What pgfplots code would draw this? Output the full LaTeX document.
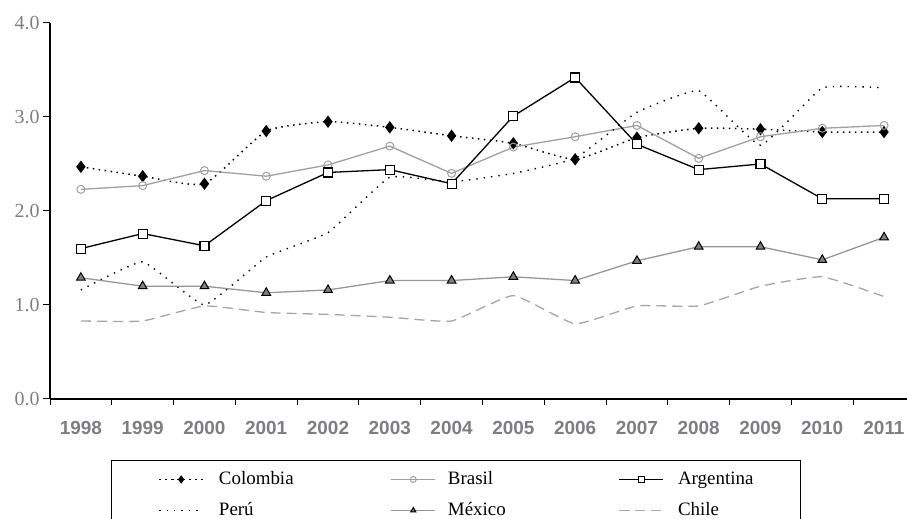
\documentclass[border=0pt]{standalone}
\usepackage{fontspec}
\setmainfont{Liberation Serif}
\newfontfamily\arialf{Liberation Sans}
\usepackage{pgfplots}
\pgfplotsset{compat=1.18}
\definecolor{tickgray}{RGB}{125,125,132}
\definecolor{brgray}{RGB}{160,160,160}
\definecolor{mxgray}{RGB}{150,150,150}
\definecolor{chgray}{RGB}{165,165,165}
\begin{document}
\begin{tikzpicture}[x=1bp,y=1bp]
\begin{axis}[
  at={(50bp,120bp)}, anchor=south west,
  scale only axis, width=860bp, height=376bp,
  xmin=1997.5, xmax=2011.42, ymin=0, ymax=4,
  axis lines=left, axis line style={-, line width=1.3bp, black},
  xtick={1998,...,2011},
  minor xtick={1997.5,1998.5,...,2010.5},
  major x tick style={draw=none},
  minor x tick style={line width=1bp, black},
  ytick={0,1,2,3,4},
  y tick style={line width=1bp, black},
  tick align=outside,
  major tick length=7bp, minor tick length=6bp,
  /pgf/number format/assume math mode=true,
  xticklabel style={font=\arialf\bfseries\fontsize{19}{22}\selectfont, text=tickgray, yshift=-12bp, /pgf/number format/1000 sep={}},
  yticklabel style={font=\fontsize{20}{22}\selectfont, text=tickgray, /pgf/number format/.cd, fixed, fixed zerofill, precision=1},
  legend columns=3,
  legend cell align=left,
  legend style={at={(0.0709,-0.1622)}, anchor=north west, draw=black, line width=1bp,
    inner xsep=47bp, inner ysep=10bp, font=\fontsize{19}{22}\selectfont,
    nodes={inner xsep=0pt, inner ysep=0pt, text height=14bp, text depth=4bp},
    row sep=13bp,
    /tikz/column 1/.style={column sep=15bp},
    /tikz/column 2/.style={column sep=97bp},
    /tikz/column 3/.style={column sep=12bp},
    /tikz/column 4/.style={column sep=113bp},
    /tikz/column 5/.style={column sep=14bp}},
  legend image code/.code={\draw[mark repeat=2,mark phase=2,#1,mark size=3bp] plot coordinates {(0bp,0bp) (22bp,0bp) (44bp,0bp)};},
]
% Colombia
\addplot[black, line width=1.5bp, dash pattern=on 1.5bp off 4.5bp, smooth, tension=0.3, mark=diamond*, mark size=5bp, mark options={solid, fill=black}]
 coordinates {(1998,2.47)(1999,2.37)(2000,2.29)(2001,2.85)(2002,2.95)(2003,2.89)(2004,2.80)(2005,2.72)(2006,2.55)(2007,2.78)(2008,2.88)(2009,2.87)(2010,2.84)(2011,2.84)};
\addlegendentry{Colombia}
% Brasil
\addplot[brgray, line width=1.3bp, mark=o, mark size=4bp, mark options={solid, fill=white, draw=brgray, line width=1bp}]
 coordinates {(1998,2.23)(1999,2.27)(2000,2.43)(2001,2.37)(2002,2.49)(2003,2.69)(2004,2.40)(2005,2.68)(2006,2.79)(2007,2.91)(2008,2.56)(2009,2.79)(2010,2.88)(2011,2.91)};
\addlegendentry{Brasil}
% Argentina
\addplot[black, line width=1.3bp, mark=square*, mark size=4.5bp, mark options={solid, fill=white, draw=black, line width=1.1bp}]
 coordinates {(1998,1.60)(1999,1.76)(2000,1.63)(2001,2.11)(2002,2.41)(2003,2.44)(2004,2.29)(2005,3.01)(2006,3.42)(2007,2.71)(2008,2.44)(2009,2.50)(2010,2.13)(2011,2.13)};
\addlegendentry{Argentina}
% Peru
\addplot[black, line width=1.4bp, dash pattern=on 1.4bp off 6bp, smooth, tension=0.2]
 coordinates {(1998,1.16)(1999,1.46)(2000,1.00)(2001,1.51)(2002,1.77)(2003,2.36)(2004,2.31)(2005,2.40)(2006,2.56)(2007,3.05)(2008,3.28)(2009,2.70)(2010,3.31)(2011,3.31)};
\addlegendentry{Perú}
% Mexico
\addplot[mxgray, line width=1.3bp, mark=triangle*, mark size=5bp, mark options={solid, fill=gray, draw=black, line width=1bp}]
 coordinates {(1998,1.29)(1999,1.20)(2000,1.20)(2001,1.13)(2002,1.16)(2003,1.26)(2004,1.26)(2005,1.30)(2006,1.26)(2007,1.47)(2008,1.62)(2009,1.62)(2010,1.48)(2011,1.72)};
\addlegendentry{México}
% Chile
\addplot[chgray, line width=1.3bp, dash pattern=on 10bp off 6bp, smooth, tension=0.25]
 coordinates {(1998,0.83)(1999,0.83)(2000,0.99)(2001,0.92)(2002,0.90)(2003,0.87)(2004,0.83)(2005,1.10)(2006,0.80)(2007,0.99)(2008,0.99)(2009,1.20)(2010,1.30)(2011,1.09)};
\addlegendentry{Chile}
\end{axis}
\pgfresetboundingbox
\useasboundingbox (0,0) rectangle (907,519);
\end{tikzpicture}
\end{document}
